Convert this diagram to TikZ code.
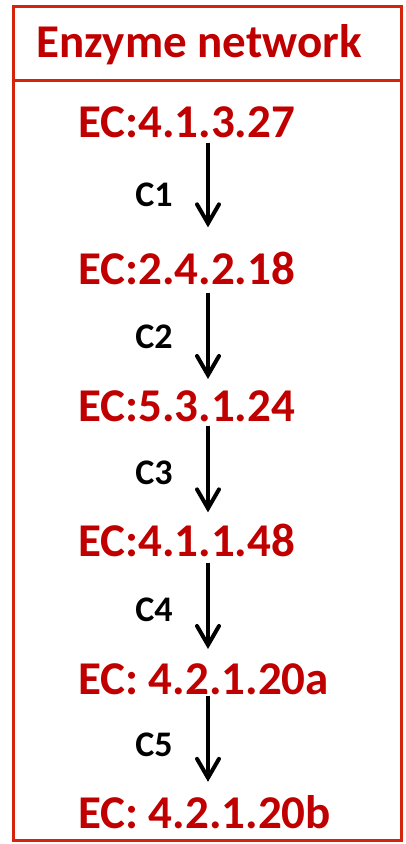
\documentclass[tikz,border=0pt]{standalone}
\usepackage{fontspec}
\setmainfont{Carlito}
\usepackage{xcolor}
\usetikzlibrary{arrows.meta}
\definecolor{ecred}{RGB}{192,0,0}
\definecolor{boxred}{RGB}{212,36,12}
\begin{document}
\begin{tikzpicture}[x=1pt,y=-1pt,
  ecnode/.style={anchor=base west,inner sep=0pt,text=ecred,font=\fontsize{47}{47}\selectfont\bfseries},
  rxn/.style={-{Straight Barb[length=19pt,width=22pt,line cap=round]}},
  rxnlabel/.style={left=30pt,font=\fontsize{36}{36}\selectfont\bfseries}]
\useasboundingbox (0,0) rectangle (405,844);
\draw[boxred,line width=3pt] (13,6) rectangle (401,840); % outer frame
\draw[boxred,line width=3pt] (13,80) -- (401,80); % header rule
\node[inner sep=0pt,text=ecred,font=\fontsize{47}{47}\selectfont\bfseries] (title) at (199,45) {Enzyme network};
\coordinate (mid) at (208,0);
\foreach \n/\y/\t in {e1/137/{EC:4.1.3.27},e2/284/{EC:2.4.2.18},e3/421/{EC:5.3.1.24},e4/556/{EC:4.1.1.48},e5/694/{EC: 4.2.1.20a},e6/828/{EC: 4.2.1.20b}} % edit here for the enzymes
\node[ecnode] (\n) at (78,\y) {\t};
\foreach \a/\b/\c/\s/\e in {e1/e2/C1/5/24,e2/e3/C2/8/11,e3/e4/C3/4/11,e4/e5/C4/6/14,e5/e6/C5/1/13} % edit here for the steps
\draw[rxn,line width=4pt,shorten <=\s pt,shorten >=\e pt] (\a.south -| mid) -- (\b.north -| mid) node[midway,rxnlabel]{\c};
\end{tikzpicture}
\end{document}
